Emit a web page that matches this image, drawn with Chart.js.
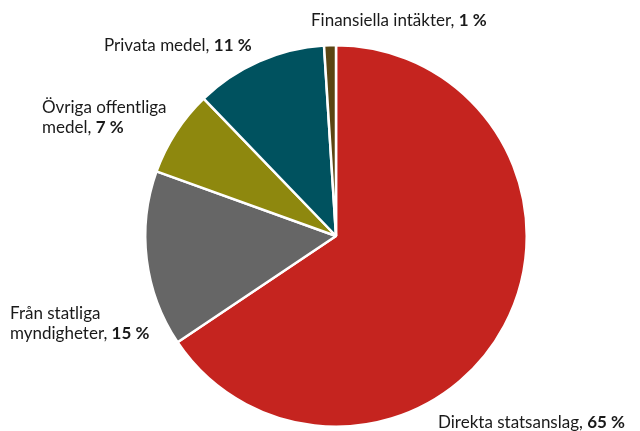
<!DOCTYPE html>
<html>
<head>
<meta charset="utf-8">
<script src="https://cdn.jsdelivr.net/npm/chart.js@4/dist/chart.umd.min.js"></script>
<style>
  html, body { margin: 0; padding: 0; background: #fff; }
  #wrap { width: 640px; height: 431px; }
</style>
</head>
<body>
<div id="wrap"><canvas id="pie-chartcanvas"></canvas></div>
<script>
// data, clockwise from 12 o'clock
var categories = ["Direkta statsanslag", "Från statliga myndigheter", "Övriga offentliga medel", "Privata medel", "Finansiella intäkter"];
var values = [65.6, 14.9, 7.3, 11.2, 1.0];
var valueLabels = ["65 %", "15 %", "7 %", "11 %", "1 %"];
var colors = ["#c5241f", "#666666", "#8e880e", "#00525f", "#5b4512"];

// label text lines (last line gets the bold value) and where they sit
var labelLines = [
	["Direkta statsanslag, "],
	["Från statliga", "myndigheter, "],
	["Övriga offentliga", "medel, "],
	["Privata medel, "],
	["Finansiella intäkter, "]
];
var labelPos = [
	{ x: 438, y: 428 },
	{ x: 10, y: 319 },
	{ x: 42, y: 113 },
	{ x: 104, y: 51 },
	{ x: 311, y: 26 }
];

var fontFamily = "Lato, 'Open Sans', sans-serif";

var labelPlugin = {
	id: 'sliceLabels',
	afterDraw: function(chart) {
		var c = chart.ctx;
		c.save();
		c.fillStyle = "#1a1a1a";
		c.textBaseline = "alphabetic";
		c.textAlign = "left";
		for (var i = 0; i < labelLines.length; i++) {
			var lines = labelLines[i];
			var p = labelPos[i];
			for (var j = 0; j < lines.length; j++) {
				var y = p.y + j * 20;
				c.font = "17px " + fontFamily;
				c.fillText(lines[j], p.x, y);
				if (j == lines.length - 1) {
					var w = c.measureText(lines[j]).width;
					c.font = "bold 17px " + fontFamily;
					c.fillText(valueLabels[i], p.x + w, y);
				}
			}
		}
		c.restore();
	}
};

var ctx = document.getElementById("pie-chartcanvas");

var chart = new Chart(ctx, {
	type: 'pie',
	data: {
		labels: categories,
		datasets: [{
			data: values,
			backgroundColor: colors,
			borderColor: "#ffffff",
			borderWidth: 2.5
		}]
	},
	options: {
		responsive: true,
		maintainAspectRatio: false,
		animation: false,
		layout: {
			padding: { left: 144, right: 112, top: 44, bottom: 3 }
		},
		plugins: {
			legend: { display: false },
			tooltip: { enabled: false }
		}
	},
	plugins: [labelPlugin]
});
</script>
</body>
</html>
